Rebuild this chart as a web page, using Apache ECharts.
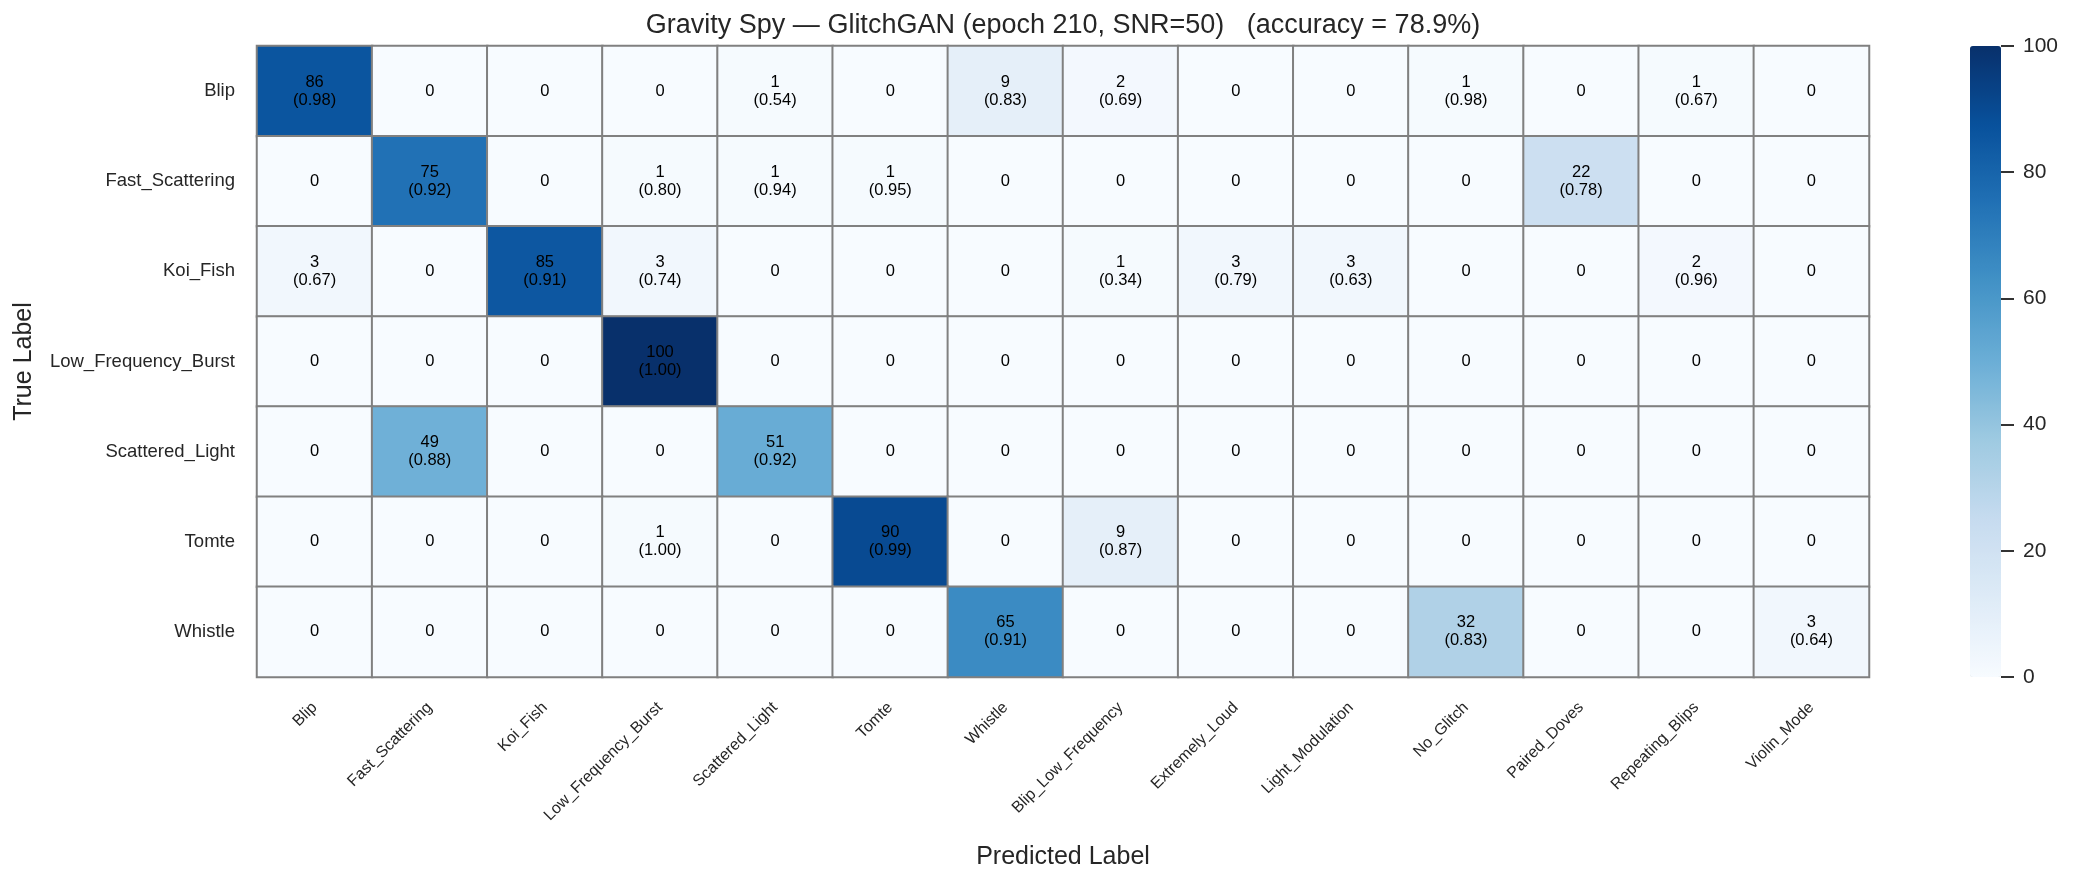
<!DOCTYPE html>
<html>
<head>
<meta charset="utf-8">
<script src="https://cdn.jsdelivr.net/npm/echarts@6/dist/echarts.min.js"></script>
<style>
  html, body { margin: 0; background: #fff; }
  #chart { width: 2075px; height: 875px; }
</style>
</head>
<body>
<div id="chart"></div>
<script>
const predictedLabels = ["Blip", "Fast_Scattering", "Koi_Fish", "Low_Frequency_Burst", "Scattered_Light", "Tomte", "Whistle",
  "Blip_Low_Frequency", "Extremely_Loud", "Light_Modulation", "No_Glitch", "Paired_Doves", "Repeating_Blips", "Violin_Mode"];
const trueLabels = ["Blip", "Fast_Scattering", "Koi_Fish", "Low_Frequency_Burst", "Scattered_Light", "Tomte", "Whistle"];

// counts per true label (rows) x predicted label (cols)
const blipRow      = [86, 0, 0, 0, 1, 0, 9, 2, 0, 0, 1, 0, 1, 0];
const fastScatRow  = [0, 75, 0, 1, 1, 1, 0, 0, 0, 0, 0, 22, 0, 0];
const koiFishRow   = [3, 0, 85, 3, 0, 0, 0, 1, 3, 3, 0, 0, 2, 0];
const lfbRow       = [0, 0, 0, 100, 0, 0, 0, 0, 0, 0, 0, 0, 0, 0];
const scatLightRow = [0, 49, 0, 0, 51, 0, 0, 0, 0, 0, 0, 0, 0, 0];
const tomteRow     = [0, 0, 0, 1, 0, 90, 0, 9, 0, 0, 0, 0, 0, 0];
const whistleRow   = [0, 0, 0, 0, 0, 0, 65, 0, 0, 0, 32, 0, 0, 3];
const counts = [blipRow, fastScatRow, koiFishRow, lfbRow, scatLightRow, tomteRow, whistleRow];

// mean confidence per cell (only shown where count > 0)
const blipConf      = [0.98, 0, 0, 0, 0.54, 0, 0.83, 0.69, 0, 0, 0.98, 0, 0.67, 0];
const fastScatConf  = [0, 0.92, 0, 0.80, 0.94, 0.95, 0, 0, 0, 0, 0, 0.78, 0, 0];
const koiFishConf   = [0.67, 0, 0.91, 0.74, 0, 0, 0, 0.34, 0.79, 0.63, 0, 0, 0.96, 0];
const lfbConf       = [0, 0, 0, 1.00, 0, 0, 0, 0, 0, 0, 0, 0, 0, 0];
const scatLightConf = [0, 0.88, 0, 0, 0.92, 0, 0, 0, 0, 0, 0, 0, 0, 0];
const tomteConf     = [0, 0, 0, 1.00, 0, 0.99, 0, 0.87, 0, 0, 0, 0, 0, 0];
const whistleConf   = [0, 0, 0, 0, 0, 0, 0.91, 0, 0, 0, 0.83, 0, 0, 0.64];
const confidence = [blipConf, fastScatConf, koiFishConf, lfbConf, scatLightConf, tomteConf, whistleConf];

const colorbarTicks = [0, 20, 40, 60, 80, 100];
const blues = ["#f7fbff", "#deebf7", "#c6dbef", "#9ecae1", "#6baed6", "#4292c6", "#2171b5", "#08519c", "#08306b"];

const FONT = "'Liberation Sans', Arial, sans-serif";
const INK = "#262626";

const cells = [];
counts.forEach((row, r) => {
  row.forEach((v, c) => cells.push([c, r, v]));
});

const chart = echarts.init(document.getElementById("chart"));
chart.setOption({
  animation: false,
  textStyle: { fontFamily: FONT },
  title: {
    text: "Gravity Spy \u2014 GlitchGAN (epoch 210, SNR=50)   (accuracy = 78.9%)",
    left: 1063,
    top: 12,
    padding: 0,
    textAlign: "center",
    textStyle: { fontFamily: FONT, fontSize: 27, fontWeight: "normal", color: INK }
  },
  grid: [
    { left: 257, top: 46, width: 1612, height: 631, show: true, borderColor: "#808080", borderWidth: 2 },
    { left: 1970, top: 46, width: 31, height: 631 }
  ],
  xAxis: [
    {
      type: "category",
      data: predictedLabels,
      gridIndex: 0,
      axisLine: { show: false },
      axisTick: { show: false },
      splitLine: { show: false },
      axisLabel: { rotate: 45, fontSize: 16, color: INK, margin: 28, interval: 0, fontFamily: FONT },
      name: "Predicted Label",
      nameLocation: "middle",
      nameGap: 168,
      nameTextStyle: { fontSize: 25, color: INK, fontFamily: FONT }
    },
    { type: "category", gridIndex: 1, data: ["cb"], show: false }
  ],
  yAxis: [
    {
      type: "category",
      data: trueLabels,
      inverse: true,
      gridIndex: 0,
      axisLine: { show: false },
      axisTick: { show: false },
      splitLine: { show: false },
      axisLabel: { fontSize: 18.5, color: INK, margin: 22, fontFamily: FONT },
      name: "True Label",
      nameLocation: "middle",
      nameGap: 220,
      nameTextStyle: { fontSize: 25, color: INK, fontFamily: FONT }
    },
    {
      type: "value",
      gridIndex: 1,
      position: "right",
      min: colorbarTicks[0],
      max: colorbarTicks[colorbarTicks.length - 1],
      interval: 20,
      axisLine: { show: false },
      splitLine: { show: false },
      axisTick: { show: true, length: 13, lineStyle: { color: "#333", width: 2 } },
      axisLabel: { fontSize: 21, color: INK, margin: 22, fontFamily: FONT }
    }
  ],
  visualMap: {
    type: "continuous",
    seriesIndex: 0,
    min: 0,
    max: 100,
    orient: "vertical",
    left: 1970,
    top: 46,
    itemWidth: 31,
    itemHeight: 631,
    padding: 0,
    calculable: false,
    text: null,
    inRange: { color: blues }
  },
  series: [
    {
      type: "heatmap",
      xAxisIndex: 0,
      yAxisIndex: 0,
      data: cells,
      itemStyle: { borderColor: "#808080", borderWidth: 2 },
      emphasis: { disabled: true },
      label: {
        show: true,
        color: "#000",
        fontSize: 16.5,
        lineHeight: 18,
        fontFamily: FONT,
        formatter: p => {
          const [c, r, v] = p.data;
          if (v === 0) return "0";
          return v + "\n(" + confidence[r][c].toFixed(2) + ")";
        }
      }
    },
    { type: "scatter", xAxisIndex: 1, yAxisIndex: 1, data: [] }
  ]
});
</script>
</body>
</html>
